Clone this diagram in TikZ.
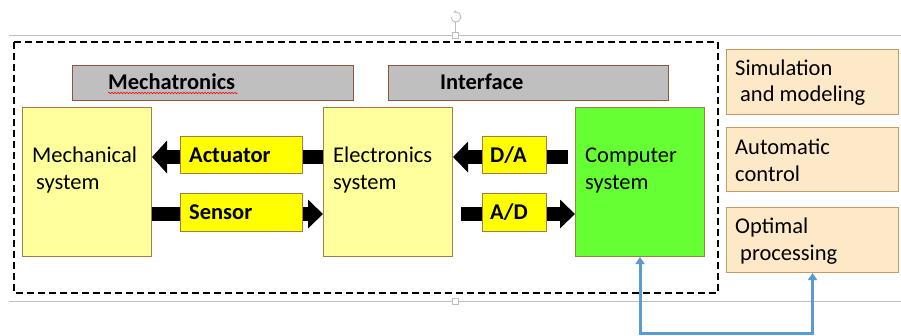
\documentclass[tikz,border=0pt]{standalone}
\usepackage{fontspec}
\setmainfont{Carlito}
\usetikzlibrary{arrows.meta,decorations.pathmorphing}
\definecolor{lyellow}{HTML}{FFFF9C}
\definecolor{byellow}{HTML}{FFFF00}
\definecolor{bborder}{HTML}{A87A4A}
\definecolor{gfill}{HTML}{BFBFBF}
\definecolor{gborder}{HTML}{8E5638}
\definecolor{peach}{HTML}{FDE9C8}
\definecolor{pborder}{HTML}{C39A68}
\definecolor{cgreen}{HTML}{66FF33}
\definecolor{cblue}{HTML}{5B9BD5}
\definecolor{selgray}{HTML}{BEBEBE}
\tikzset{
  box/.style={draw=bborder, line width=1pt, anchor=north west, inner sep=0pt},
  txt/.style={anchor=base west, inner sep=0pt, font=\fontsize{22.5}{27}\selectfont},
  btxt/.style={anchor=base west, inner sep=0pt, font=\fontsize{22.5}{27}\selectfont\bfseries},
  bigarrow/.style={line width=14pt, draw=black, -{Triangle[length=15pt,width=#1]}},
  bigarrow/.default=30pt,
  blueline/.style={draw=cblue, line width=3pt, {Triangle[length=7pt,width=9pt]}-{Triangle[length=7pt,width=9pt]}},
}
\begin{document}
\begin{tikzpicture}[x=1pt,y=-1pt]
\useasboundingbox (0,0) rectangle (901,335);
% selection frame artefacts
\draw[selgray, line width=0.8pt] (9,35) -- (901,35);
\draw[selgray, line width=0.8pt] (9,301) -- (901,301);
\draw[selgray, line width=0.8pt] (455,22) -- (455,35);
\node[draw=selgray, fill=white, minimum size=6pt, inner sep=0pt] (h1) at (455,35) {};
\node[draw=selgray, fill=white, minimum size=6pt, inner sep=0pt] (h2) at (455,301) {};
\draw[selgray, line width=0.9pt, -{Stealth[length=3pt]}] (451,17) arc (180:-120:5);
% dashed frame
\draw[line width=1.3pt, dash pattern=on 7pt off 4pt] (14,42) rectangle (718,293);
% header boxes
\node[box, draw=gborder, fill=gfill, minimum width=281pt, minimum height=35pt] (mechhead) at (72,65) {};
\node[box, draw=gborder, fill=gfill, minimum width=280pt, minimum height=35pt] (inthead) at (388,65) {};
\node[btxt] (mechtxt) at (108,89) {Mechatronics};
\node[btxt] (inttxt) at (440,89) {Interface};
\draw[red, line width=0.5pt, decorate, decoration={snake, amplitude=0.8pt, segment length=3pt}] (108,93) -- (238,93);
% main blocks
\node[box, fill=lyellow, minimum width=129pt, minimum height=149pt] (mech) at (22,107) {};
\node[box, fill=lyellow, minimum width=129pt, minimum height=149pt] (elec) at (323,107) {};
\node[box, fill=cgreen, minimum width=129pt, minimum height=149pt] (comp) at (575,107) {};
% arrow levels
\coordinate (upper) at (241,157);
\coordinate (lower) at (241,214);
% thick arrows
\draw[bigarrow=32pt] (elec.west |- upper) -- (mech.east |- upper);
\draw[bigarrow=28pt] (mech.east |- lower) -- (elec.west |- lower);
\draw[bigarrow=30pt] ([xshift=-7pt]comp.west |- upper) -- (elec.east |- upper);
\draw[bigarrow=28pt] ([xshift=8pt]elec.east |- lower) -- (comp.west |- lower);
% small boxes over arrows
\node[box, fill=byellow, minimum width=122pt, minimum height=37pt] (act) at (180,136) {};
\node[box, fill=byellow, minimum width=122pt, minimum height=38pt] (sen) at (180,193) {};
\node[box, fill=byellow, minimum width=64pt, minimum height=37pt] (da) at (482,136) {};
\node[box, fill=byellow, minimum width=64pt, minimum height=38pt] (ad) at (482,193) {};
\node[btxt] (acttxt) at (189,162) {Actuator};
\node[btxt] (sentxt) at (189,219) {Sensor};
\node[btxt] (datxt) at (490,162) {D/A};
\node[btxt] (adtxt) at (490,219) {A/D};
% block texts
\node[txt] (m1) at (32,162) {Mechanical};
\node[txt] (m2) at (36,189) {system};
\node[txt] (e1) at (333,162) {Electronics};
\node[txt] (e2) at (333,189) {system};
\node[txt] (c1) at (585,162) {Computer};
\node[txt] (c2) at (585,189) {system};
% right boxes
\node[box, draw=pborder, fill=peach, minimum width=172pt, minimum height=65pt] (sim) at (726,49) {};
\node[box, draw=pborder, fill=peach, minimum width=172pt, minimum height=64pt] (auto) at (726,127) {};
\node[box, draw=pborder, fill=peach, minimum width=172pt, minimum height=65pt] (opt) at (726,207) {};
\node[txt] (s1) at (735,75) {Simulation};
\node[txt] (s2) at (740,101) {and modeling};
\node[txt] (a1) at (735,154) {Automatic};
\node[txt] (a2) at (735,181) {control};
\node[txt] (o1) at (735,233) {Optimal};
\node[txt] (o2) at (740,260) {processing};
% blue connector
\draw[blueline] (comp.south) -- ++(0,76) -| (opt.south);
\end{tikzpicture}
\end{document}
